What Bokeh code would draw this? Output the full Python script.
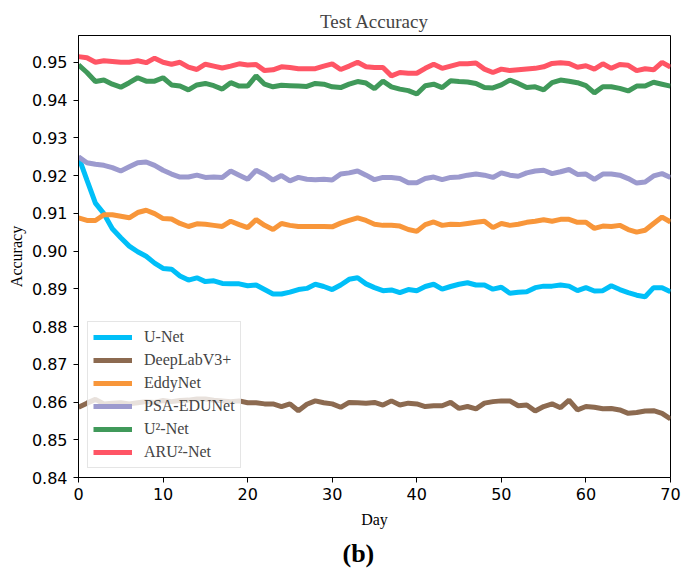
from bokeh.plotting import figure
from bokeh.models import Range1d, FixedTicker, NumeralTickFormatter, Title, Legend, LegendItem
from bokeh.embed import file_html
from bokeh.resources import INLINE

days = list(range(71))
x_ticks = [0, 10, 20, 30, 40, 50, 60, 70]
y_ticks = [0.84, 0.85, 0.86, 0.87, 0.88, 0.89, 0.90, 0.91, 0.92, 0.93, 0.94, 0.95]

unet = [0.9250, 0.9188, 0.9127, 0.9099, 0.9059, 0.9035, 0.9013, 0.8998, 0.8986, 0.8968, 0.8954, 0.8952,
        0.8934, 0.8923, 0.8929, 0.8919, 0.8921, 0.8914, 0.8913, 0.8913, 0.8908, 0.8910, 0.8898, 0.8886,
        0.8886, 0.8891, 0.8898, 0.8901, 0.8912, 0.8906, 0.8898, 0.8910, 0.8925, 0.8929, 0.8913, 0.8903,
        0.8895, 0.8897, 0.8890, 0.8898, 0.8895, 0.8906, 0.8912, 0.8899, 0.8906, 0.8912, 0.8916, 0.8910,
        0.8910, 0.8899, 0.8904, 0.8888, 0.8891, 0.8892, 0.8903, 0.8907, 0.8907, 0.8910, 0.8907, 0.8895,
        0.8903, 0.8894, 0.8895, 0.8908, 0.8898, 0.8890, 0.8883, 0.8879, 0.8903, 0.8903, 0.8892]
deeplab = [0.8586, 0.8597, 0.8607, 0.8595, 0.8597, 0.8598, 0.8595, 0.8598, 0.8601, 0.8599, 0.8604, 0.8601,
           0.8604, 0.8605, 0.8608, 0.8608, 0.8605, 0.8603, 0.8601, 0.8603, 0.8598, 0.8598, 0.8595, 0.8595,
           0.8588, 0.8595, 0.8577, 0.8594, 0.8603, 0.8598, 0.8595, 0.8586, 0.8599, 0.8598, 0.8597, 0.8599,
           0.8592, 0.8603, 0.8592, 0.8597, 0.8595, 0.8588, 0.8590, 0.8590, 0.8599, 0.8583, 0.8588, 0.8582,
           0.8597, 0.8601, 0.8603, 0.8603, 0.8590, 0.8592, 0.8576, 0.8588, 0.8595, 0.8585, 0.8605, 0.8579,
           0.8588, 0.8586, 0.8582, 0.8583, 0.8579, 0.8570, 0.8572, 0.8576, 0.8577, 0.8570, 0.8555]
eddynet = [0.9088, 0.9081, 0.9081, 0.9096, 0.9096, 0.9092, 0.9088, 0.9102, 0.9108, 0.9099, 0.9086, 0.9085,
           0.9073, 0.9065, 0.9072, 0.9071, 0.9068, 0.9065, 0.9079, 0.9070, 0.9062, 0.9083, 0.9068, 0.9057,
           0.9073, 0.9068, 0.9065, 0.9065, 0.9065, 0.9065, 0.9064, 0.9074, 0.9081, 0.9088, 0.9081, 0.9071,
           0.9068, 0.9068, 0.9066, 0.9057, 0.9052, 0.9070, 0.9077, 0.9068, 0.9071, 0.9070, 0.9073, 0.9076,
           0.9079, 0.9062, 0.9073, 0.9068, 0.9071, 0.9076, 0.9079, 0.9083, 0.9079, 0.9084, 0.9084, 0.9076,
           0.9076, 0.9060, 0.9066, 0.9065, 0.9068, 0.9057, 0.9050, 0.9055, 0.9073, 0.9090, 0.9077]
psa_edunet = [0.9250, 0.9234, 0.9230, 0.9227, 0.9221, 0.9212, 0.9223, 0.9234, 0.9236, 0.9227, 0.9214, 0.9204,
              0.9196, 0.9196, 0.9201, 0.9195, 0.9196, 0.9195, 0.9212, 0.9201, 0.9190, 0.9214, 0.9203, 0.9188,
              0.9200, 0.9186, 0.9195, 0.9190, 0.9189, 0.9190, 0.9188, 0.9204, 0.9207, 0.9212, 0.9201, 0.9189,
              0.9195, 0.9195, 0.9192, 0.9181, 0.9181, 0.9192, 0.9196, 0.9189, 0.9195, 0.9196, 0.9201, 0.9204,
              0.9201, 0.9195, 0.9207, 0.9201, 0.9198, 0.9207, 0.9212, 0.9214, 0.9205, 0.9210, 0.9216, 0.9203,
              0.9204, 0.9190, 0.9204, 0.9204, 0.9201, 0.9192, 0.9180, 0.9183, 0.9199, 0.9205, 0.9195]
u2net = [0.9493, 0.9473, 0.9449, 0.9453, 0.9442, 0.9434, 0.9446, 0.9459, 0.9450, 0.9450, 0.9459, 0.9440,
         0.9437, 0.9427, 0.9440, 0.9444, 0.9438, 0.9429, 0.9446, 0.9437, 0.9437, 0.9464, 0.9442, 0.9435,
         0.9439, 0.9438, 0.9437, 0.9436, 0.9444, 0.9442, 0.9435, 0.9433, 0.9442, 0.9449, 0.9445, 0.9430,
         0.9450, 0.9435, 0.9429, 0.9425, 0.9416, 0.9438, 0.9442, 0.9433, 0.9451, 0.9449, 0.9448, 0.9444,
         0.9433, 0.9432, 0.9440, 0.9453, 0.9444, 0.9433, 0.9435, 0.9427, 0.9446, 0.9453, 0.9450, 0.9446,
         0.9438, 0.9419, 0.9435, 0.9435, 0.9431, 0.9424, 0.9437, 0.9437, 0.9447, 0.9442, 0.9437]
aru2net = [0.9515, 0.9512, 0.9500, 0.9504, 0.9502, 0.9500, 0.9500, 0.9504, 0.9499, 0.9511, 0.9500, 0.9495,
           0.9500, 0.9487, 0.9481, 0.9495, 0.9490, 0.9485, 0.9490, 0.9496, 0.9493, 0.9494, 0.9478, 0.9480,
           0.9488, 0.9486, 0.9483, 0.9483, 0.9483, 0.9490, 0.9496, 0.9481, 0.9490, 0.9500, 0.9488, 0.9486,
           0.9486, 0.9464, 0.9473, 0.9471, 0.9471, 0.9484, 0.9495, 0.9484, 0.9490, 0.9496, 0.9496, 0.9498,
           0.9482, 0.9473, 0.9482, 0.9478, 0.9480, 0.9482, 0.9484, 0.9488, 0.9497, 0.9499, 0.9497, 0.9487,
           0.9491, 0.9482, 0.9496, 0.9484, 0.9494, 0.9492, 0.9478, 0.9483, 0.9480, 0.9500, 0.9487]

series_names = ["U-Net", "DeepLabV3+", "EddyNet", "PSA-EDUNet", "U\u00b2-Net", "ARU\u00b2-Net"]
series_values = [unet, deeplab, eddynet, psa_edunet, u2net, aru2net]
series_colors = ["#00BFF8", "#8C6A50", "#F8963A", "#9C9ACE", "#40995A", "#FF5565"]

SERIF = "Liberation Serif"
SANS = "DejaVu Sans"

p = figure(width=686, height=573, output_backend="svg", toolbar_location=None,
           x_range=Range1d(0, 70), y_range=Range1d(0.84, 0.9571),
           min_border_left=78, min_border_right=16, min_border_top=35, min_border_bottom=95)

p.title.text = "Test Accuracy"
p.title.align = "center"
p.title.text_font = SERIF
p.title.text_font_size = "19px"
p.title.text_font_style = "normal"
p.title.standoff = 8

items = []
for name, vals, col in zip(series_names, series_values, series_colors):
    r = p.line(days, vals, line_color=col, line_width=5)
    items.append(LegendItem(label=name, renderers=[r]))

legend = Legend(items=items, location="bottom_left", margin=9, padding=5, spacing=3,
                label_height=20, glyph_height=20, glyph_width=39, label_standoff=12,
                label_text_font=SERIF, label_text_font_size="16px",
                border_line_color="#cccccc", border_line_width=1,
                background_fill_color="white", background_fill_alpha=0.8)
p.add_layout(legend, "center")

p.grid.visible = False
p.outline_line_color = "black"
p.outline_line_width = 1

p.xaxis.ticker = FixedTicker(ticks=x_ticks)
p.yaxis.ticker = FixedTicker(ticks=y_ticks)
p.yaxis.formatter = NumeralTickFormatter(format="0.00")
for ax in (p.xaxis, p.yaxis):
    ax.major_tick_out = 5
    ax.major_tick_in = 0
    ax.minor_tick_out = 0
    ax.minor_tick_in = 0
    ax.axis_line_color = "black"
    ax.major_tick_line_color = "black"
    ax.major_label_text_font = SANS
    ax.major_label_text_font_size = "16px"
    ax.major_label_text_color = "black"
    ax.axis_label_text_font = SERIF
    ax.axis_label_text_font_size = "16px"
    ax.axis_label_text_font_style = "normal"
    ax.axis_label_text_color = "black"

p.xaxis.axis_label = "Day"
p.yaxis.axis_label = "Accuracy"
p.xaxis.major_label_standoff = 5
p.yaxis.major_label_standoff = 6
p.xaxis.axis_label_standoff = 8
p.yaxis.axis_label_standoff = 4

cap = Title(text="(b)", align="left", offset=264, text_font=SERIF, text_font_size="26px",
            text_font_style="bold", text_color="black", standoff=12)
p.add_layout(cap, "below")

open("out.html", "w").write(file_html(p, INLINE))
